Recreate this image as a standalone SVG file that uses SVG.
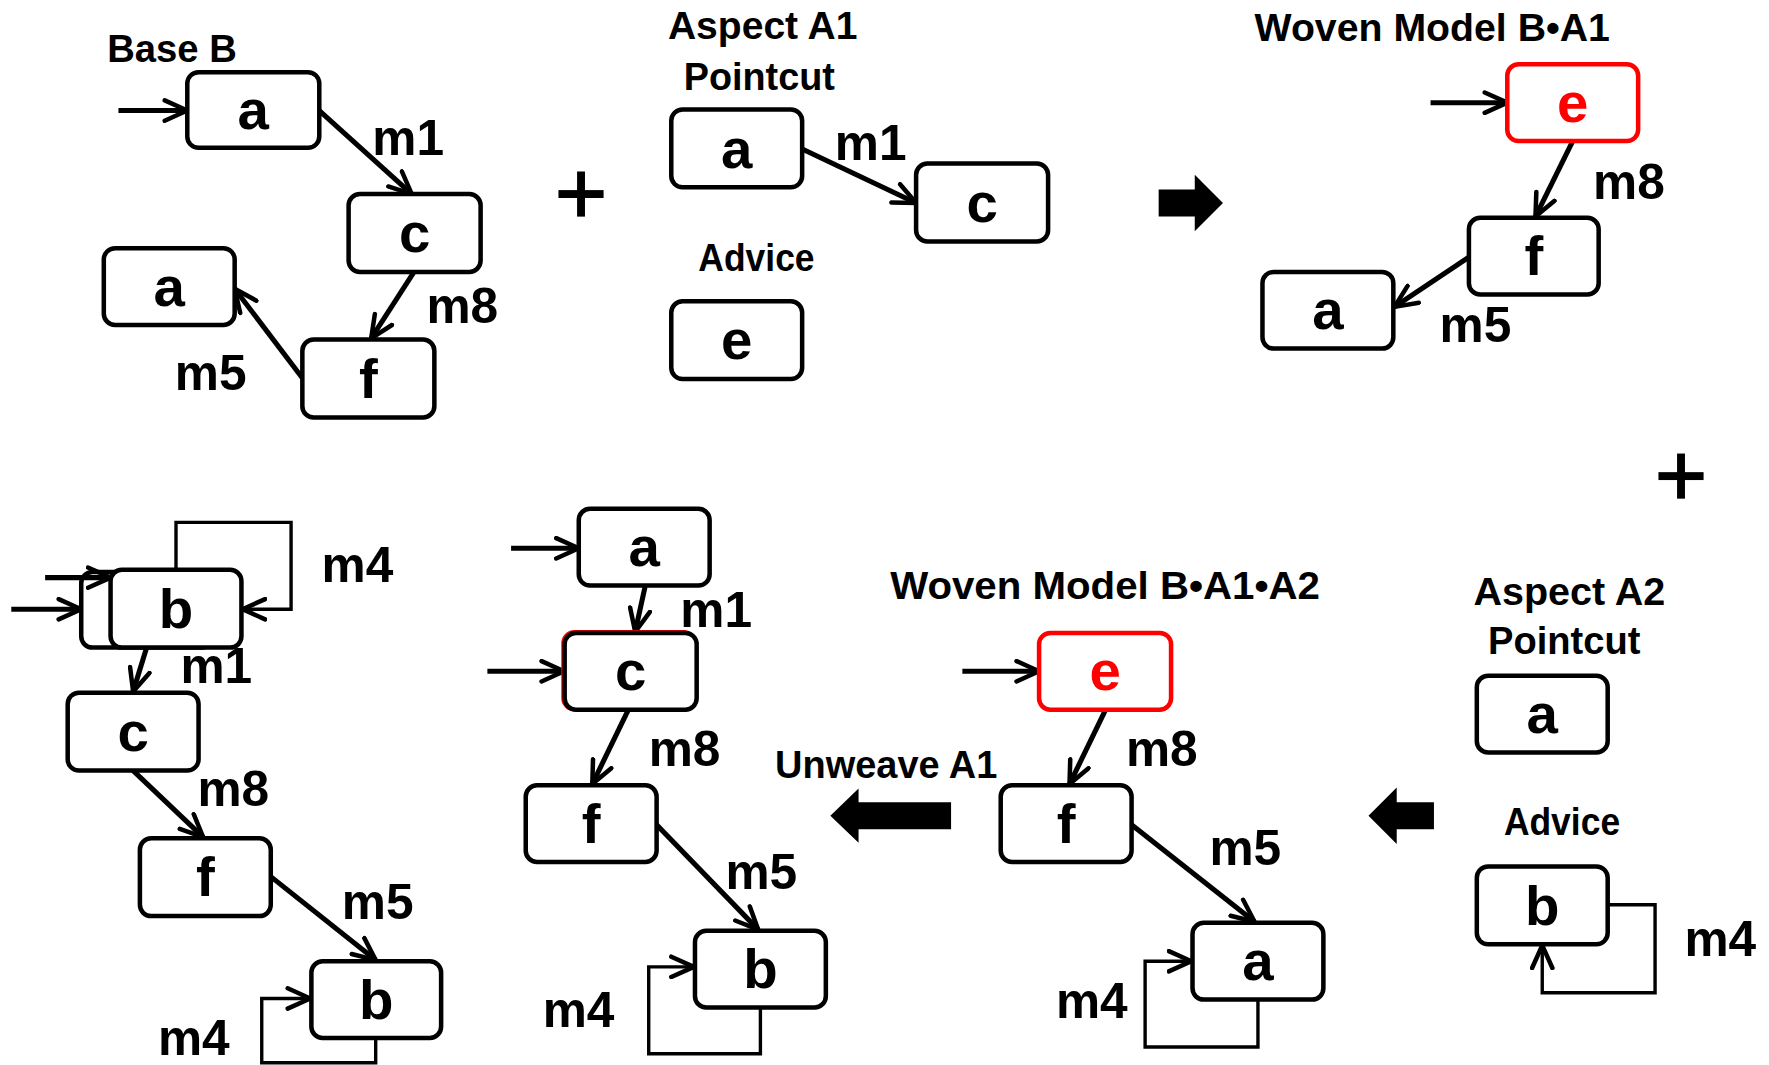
<svg xmlns="http://www.w3.org/2000/svg" width="1769" height="1065" viewBox="0 0 1769 1065">
<style>
.bx{fill:#fff;stroke:#000;stroke-width:4}
.rd{stroke:#f00}
.t{font-family:"Liberation Sans",Arial,sans-serif;font-weight:bold;fill:#000}
.nd{font-size:50px;text-anchor:middle}
.ml{font-size:44px}
.ti{font-size:34px}
.ed{fill:none;stroke:#000;stroke-width:4.5;marker-end:url(#ah)}
.lp{fill:none;stroke:#000;stroke-width:3;marker-end:url(#ah)}
.big{fill:#000}
</style>
<defs>
<marker id="ah" viewBox="0 0 24 22" refX="22" refY="11" markerWidth="24" markerHeight="22" markerUnits="userSpaceOnUse" orient="auto">
<path d="M2,2 L22,11 L2,20" fill="none" stroke="#000" stroke-width="4" stroke-linecap="round" stroke-linejoin="round"/>
</marker>
</defs>
<rect width="1769" height="1065" fill="#fff"/>
<g transform="scale(1.1282)">
<g id="titles" class="t ti">
<text x="95" y="55" textLength="115" lengthAdjust="spacingAndGlyphs">Base B</text>
<text x="592" y="35" textLength="168" lengthAdjust="spacingAndGlyphs">Aspect A1</text>
<text x="606" y="80" textLength="134" lengthAdjust="spacingAndGlyphs">Pointcut</text>
<text x="619" y="240" textLength="103" lengthAdjust="spacingAndGlyphs">Advice</text>
<text x="1112" y="36" textLength="315" lengthAdjust="spacingAndGlyphs">Woven Model B•A1</text>
<text x="789" y="531" textLength="381" lengthAdjust="spacingAndGlyphs">Woven Model B•A1•A2</text>
<text x="687" y="690" textLength="197" lengthAdjust="spacingAndGlyphs">Unweave A1</text>
<text x="1306" y="536" textLength="170" lengthAdjust="spacingAndGlyphs">Aspect A2</text>
<text x="1319" y="580" textLength="135" lengthAdjust="spacingAndGlyphs">Pointcut</text>
<text x="1333" y="740" textLength="103" lengthAdjust="spacingAndGlyphs">Advice</text>
</g>
<g id="operators">
<rect x="495" y="168.5" width="40" height="7" class="big"/>
<rect x="511.5" y="152" width="7" height="40" class="big"/>
<rect x="1470" y="418.5" width="40" height="7" class="big"/>
<rect x="1486.5" y="402" width="7" height="40" class="big"/>
<polygon class="big" points="1027,168 1059,168 1059,155 1084,180 1059,205 1059,192 1027,192"/>
<polygon class="big" points="843,711 761,711 761,699 736,723 761,747 761,735 843,735"/>
<polygon class="big" points="1271,711 1238,711 1238,698 1213,723 1238,748 1238,735 1271,735"/>
</g>
<g id="connectors">
<path class="ed" d="M105,98 L166,98"/>
<path class="ed" d="M283,98 L365,172"/>
<path class="ed" d="M367,241 L329,300"/>
<path class="ed" d="M268,335 L208,256"/>
<path class="ed" d="M711,132 L812,180"/>
<path class="ed" d="M1268,91 L1336,91"/>
<path class="ed" d="M1394,125 L1361,192"/>
<path class="ed" d="M1302,228 L1236,272"/>
<path class="ed" d="M10,540 L72,540"/>
<path class="ed" d="M130,574 L118,613"/>
<path class="ed" d="M118,683 L180,742"/>
<path class="ed" d="M240,777 L333,851"/>
<path class="lp" d="M333,920 V942 H232 V885 H275"/>
<path class="ed" d="M453,486 L513,486"/>
<path class="ed" d="M572,519 L563,560"/>
<path class="ed" d="M432,595 L500,595"/>
<path class="ed" d="M557,629 L525,695"/>
<path class="ed" d="M582,731 L672,824"/>
<path class="lp" d="M674,893 V934 H575 V857 H615"/>
<path class="ed" d="M853,595 L921,595"/>
<path class="ed" d="M980,629 L948,695"/>
<path class="ed" d="M1003,731 L1112,817"/>
<path class="lp" d="M1115,886 V928 H1015 V852 H1056"/>
<path class="lp" d="M1425,802 H1467 V880 H1367 V838"/>
</g>
<g id="labels" class="t ml">
<text x="330" y="137">m1</text>
<text x="378" y="286">m8</text>
<text x="155" y="346">m5</text>
<text x="740" y="142">m1</text>
<text x="1412" y="176">m8</text>
<text x="1276" y="303">m5</text>
<text x="285" y="516">m4</text>
<text x="160" y="605">m1</text>
<text x="175" y="714">m8</text>
<text x="303" y="815">m5</text>
<text x="140" y="935">m4</text>
<text x="603" y="556">m1</text>
<text x="575" y="679">m8</text>
<text x="643" y="788">m5</text>
<text x="481" y="910">m4</text>
<text x="998" y="679">m8</text>
<text x="1072" y="767">m5</text>
<text x="936" y="902">m4</text>
<text x="1493" y="847">m4</text>
</g>
<g id="nB_a"><rect class="bx" x="166" y="64" width="117" height="67" rx="10"/><text class="t nd" x="224.5" y="114.5">a</text></g>
<g id="nB_c"><rect class="bx" x="309" y="172" width="117" height="69" rx="10"/><text class="t nd" x="367.5" y="223.5">c</text></g>
<g id="nB_a2"><rect class="bx" x="92" y="220" width="116" height="68" rx="10"/><text class="t nd" x="150" y="271">a</text></g>
<g id="nB_f"><rect class="bx" x="268" y="301" width="117" height="69" rx="10"/><text class="t nd" x="326.5" y="352.5">f</text></g>
<g id="nA1_a"><rect class="bx" x="595" y="97" width="116" height="69" rx="10"/><text class="t nd" x="653" y="148.5">a</text></g>
<g id="nA1_c"><rect class="bx" x="812" y="145" width="117" height="69" rx="10"/><text class="t nd" x="870.5" y="196.5">c</text></g>
<g id="nA1_e"><rect class="bx" x="595" y="267" width="116" height="69" rx="10"/><text class="t nd" x="653" y="318.5">e</text></g>
<g id="nW1_e"><rect class="bx rd" x="1336" y="57" width="116" height="68" rx="10"/><text class="t nd" x="1394" y="108" style="fill:#f00">e</text></g>
<g id="nW1_f"><rect class="bx" x="1302" y="193" width="115" height="68" rx="10"/><text class="t nd" x="1359.5" y="244">f</text></g>
<g id="nW1_a"><rect class="bx" x="1119" y="241" width="116" height="68" rx="10"/><text class="t nd" x="1177" y="292">a</text></g>
<g id="nBL_back"><rect class="bx" x="72" y="507" width="116" height="67" rx="10"/></g>
<path class="ed" d="M40,512 L98,512"/>
<g id="nBL_b"><rect class="bx" x="98" y="505" width="116" height="69" rx="10"/><text class="t nd" x="156" y="556.5">b</text></g>
<path class="lp" d="M156,505 V463 H258 V540 H215"/>
<g id="nBL_c"><rect class="bx" x="60" y="614" width="116" height="69" rx="10"/><text class="t nd" x="118" y="665.5">c</text></g>
<g id="nBL_f"><rect class="bx" x="124" y="743" width="116" height="69" rx="10"/><text class="t nd" x="182" y="794.5">f</text></g>
<g id="nBL_b2"><rect class="bx" x="276" y="852" width="115" height="68" rx="10"/><text class="t nd" x="333.5" y="903">b</text></g>
<g id="nM_a"><rect class="bx" x="513" y="451" width="116" height="68" rx="10"/><text class="t nd" x="571" y="502">a</text></g>
<g id="nM_c"><rect x="499" y="560" width="117" height="69" rx="10" fill="none" stroke="#f00" stroke-width="3"/><rect class="bx" x="500.5" y="561" width="117" height="68" rx="10"/><text class="t nd" x="559" y="612">c</text></g>
<g id="nM_f"><rect class="bx" x="466" y="696" width="116" height="68" rx="10"/><text class="t nd" x="524" y="747">f</text></g>
<g id="nM_b"><rect class="bx" x="616" y="825" width="116" height="68" rx="10"/><text class="t nd" x="674" y="876">b</text></g>
<g id="nW2_e"><rect class="bx rd" x="921" y="561" width="117" height="68" rx="10"/><text class="t nd" x="979.5" y="612" style="fill:#f00">e</text></g>
<g id="nW2_f"><rect class="bx" x="887" y="696" width="116" height="68" rx="10"/><text class="t nd" x="945" y="747">f</text></g>
<g id="nW2_a"><rect class="bx" x="1057" y="818" width="116" height="68" rx="10"/><text class="t nd" x="1115" y="869">a</text></g>
<g id="nA2_a"><rect class="bx" x="1309" y="599" width="116" height="68" rx="10"/><text class="t nd" x="1367" y="650">a</text></g>
<g id="nA2_b"><rect class="bx" x="1309" y="768" width="116" height="69" rx="10"/><text class="t nd" x="1367" y="819.5">b</text></g>
</g>
</svg>
